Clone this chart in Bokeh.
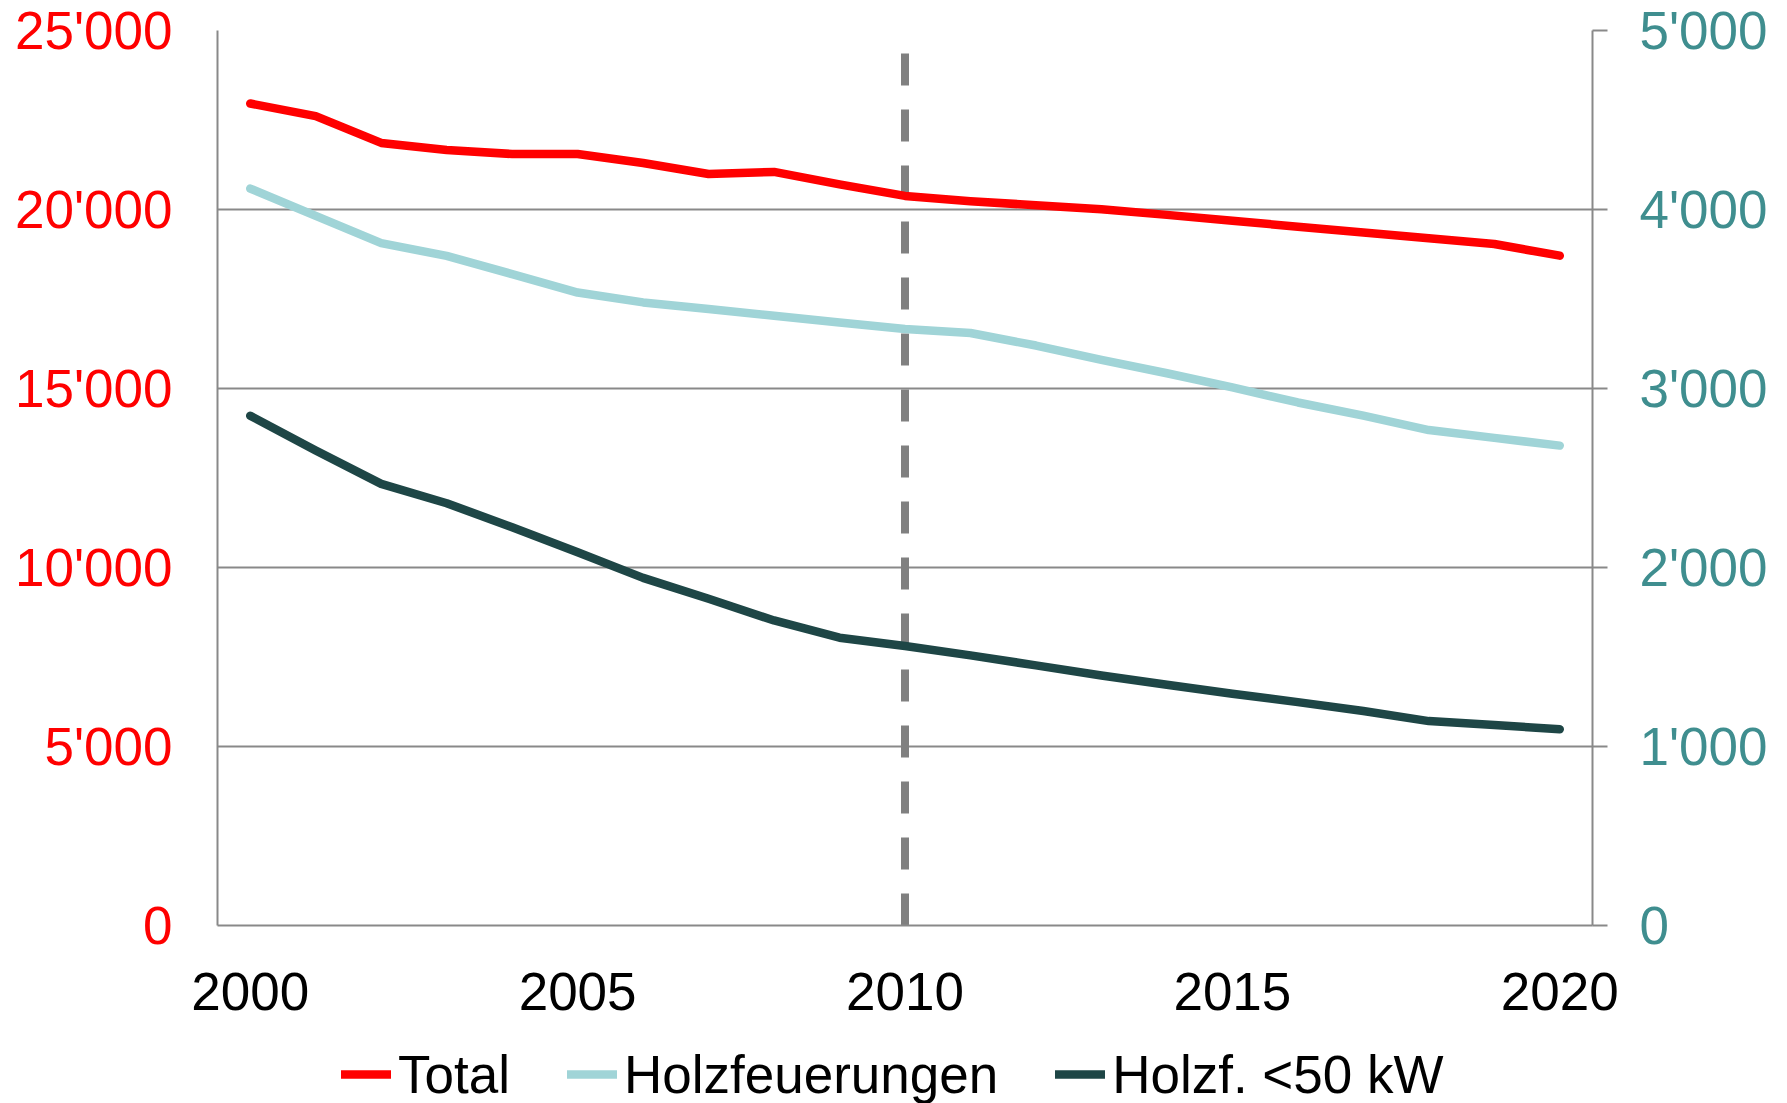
from bokeh.plotting import figure
from bokeh.layouts import column
from bokeh.models import Range1d, LinearAxis, FixedTicker, Legend, LegendItem
from bokeh.embed import file_html
from bokeh.resources import INLINE

# ---- data ----
years = list(range(2000, 2021))
total = [22960, 22610, 21860, 21660, 21550, 21550, 21300, 20990, 21050, 20700,
         20380, 20230, 20120, 20010, 19850, 19685, 19520, 19360, 19195, 19035, 18710]
holzfeuerungen = [4117, 3964, 3812, 3741, 3639, 3536, 3481, 3444, 3406, 3369,
                  3332, 3310, 3240, 3160, 3085, 3006, 2922, 2848, 2768, 2724, 2681]
holzf_50kw = [2848, 2653, 2467, 2359, 2225, 2085, 1942, 1825, 1704, 1608,
              1561, 1509, 1453, 1397, 1345, 1295, 1248, 1198, 1142, 1120, 1096]
series_names = ["Total", "Holzfeuerungen", "Holzf. <50 kW"]
left_ticks = [0, 5000, 10000, 15000, 20000, 25000]
left_labels = ["0", "5'000", "10'000", "15'000", "20'000", "25'000"]
right_ticks = [0, 1000, 2000, 3000, 4000, 5000]
right_labels = ["0", "1'000", "2'000", "3'000", "4'000", "5'000"]
x_ticks = [2000, 2005, 2010, 2015, 2020]
x_labels = ["2000", "2005", "2010", "2015", "2020"]
marker_year = [2010]

FONT = "Liberation Sans"
FS = "53px"
GREY = "#898989"
RED = "#FF0000"
LIGHT = "#A0D4D7"
DARK = "#1E4646"
TEAL = "#3F8E8F"
LW = 8.5
colors = [RED, LIGHT, DARK]
series = [total, holzfeuerungen, holzf_50kw]

W = 1787
H1, H2 = 1040, 63
p = figure(width=W, height=H1, output_backend="svg", toolbar_location=None,
           x_range=Range1d(1999.5, 2020.5), y_range=Range1d(0, 25000),
           min_border_left=217, min_border_right=195, min_border_top=30,
           min_border_bottom=115)
p.extra_y_ranges = {"right": Range1d(0, 5000)}
p.outline_line_color = None
p.background_fill_color = "white"
p.border_fill_color = "white"

# grid
p.xgrid.visible = False
p.ygrid.ticker = FixedTicker(ticks=left_ticks)
p.ygrid.grid_line_color = GREY
p.ygrid.grid_line_width = 2

# left axis
ya = p.yaxis[0]
ya.ticker = FixedTicker(ticks=left_ticks)
ya.major_label_overrides = {t: l for t, l in zip(left_ticks, left_labels)}
ya.major_label_text_font = FONT
ya.major_label_text_font_size = FS
ya.major_label_text_color = RED
ya.major_tick_out = 0
ya.major_tick_in = 0
ya.minor_tick_out = 0
ya.minor_tick_in = 0
ya.major_label_standoff = 45
ya.axis_line_color = GREY
ya.axis_line_width = 2

# right axis
ra = LinearAxis(y_range_name="right", ticker=FixedTicker(ticks=right_ticks))
ra.major_label_overrides = {t: l for t, l in zip(right_ticks, right_labels)}
ra.major_label_text_font = FONT
ra.major_label_text_font_size = FS
ra.major_label_text_color = TEAL
ra.major_tick_out = 15
ra.major_tick_in = 0
ra.minor_tick_out = 0
ra.minor_tick_in = 0
ra.major_tick_line_color = GREY
ra.major_tick_line_width = 2
ra.major_label_standoff = 32
ra.axis_line_color = GREY
ra.axis_line_width = 2
p.add_layout(ra, "right")

# bottom axis
xa = p.xaxis[0]
xa.ticker = FixedTicker(ticks=x_ticks)
xa.major_label_overrides = {t: l for t, l in zip(x_ticks, x_labels)}
xa.major_label_text_font = FONT
xa.major_label_text_font_size = FS
xa.major_label_text_color = "black"
xa.major_tick_out = 0
xa.major_tick_in = 0
xa.minor_tick_out = 0
xa.minor_tick_in = 0
xa.major_label_standoff = 47
xa.axis_line_color = GREY
xa.axis_line_width = 2

# dashed marker line
p.segment(x0=marker_year, y0=[0], x1=marker_year, y1=[25000],
          line_color="#808080", line_width=8, line_dash="32 24", line_cap="butt")

# series
p.line(years, total, line_color=RED, line_width=LW,
       line_cap="round", line_join="round")
p.line(years, holzfeuerungen, line_color=LIGHT, line_width=LW,
       line_cap="round", line_join="round", y_range_name="right")
p.line(years, holzf_50kw, line_color=DARK, line_width=LW,
       line_cap="round", line_join="round", y_range_name="right")

# legend strip below the chart (its frame is aligned with the chart's frame)
p2 = figure(width=W, height=H2, output_backend="svg", toolbar_location=None,
            x_range=Range1d(0, 1), y_range=Range1d(0, 1),
            x_axis_location=None, y_axis_location=None,
            min_border_left=0, min_border_right=0, min_border_top=0,
            min_border_bottom=0)
p2.outline_line_color = None
p2.xgrid.visible = False
p2.ygrid.visible = False
# proxies: same data, lying entirely outside this strip's (0..1) ranges
proxies = [p2.line(years, s, line_color=c, line_width=LW, line_cap="round")
           for s, c in zip(series, colors)]
legend = Legend(items=[LegendItem(label=n, renderers=[r])
                       for n, r in zip(series_names, proxies)],
                orientation="horizontal", location=(124, -2),
                padding=0, margin=0, spacing=57, label_standoff=7,
                glyph_width=50, glyph_height=62, label_height=62,
                label_text_font=FONT, label_text_font_size=FS,
                label_text_color="black", border_line_color=None,
                background_fill_alpha=0)
p2.add_layout(legend)

layout = column(p, p2, spacing=0)
open("out.html", "w").write(file_html(layout, INLINE))
